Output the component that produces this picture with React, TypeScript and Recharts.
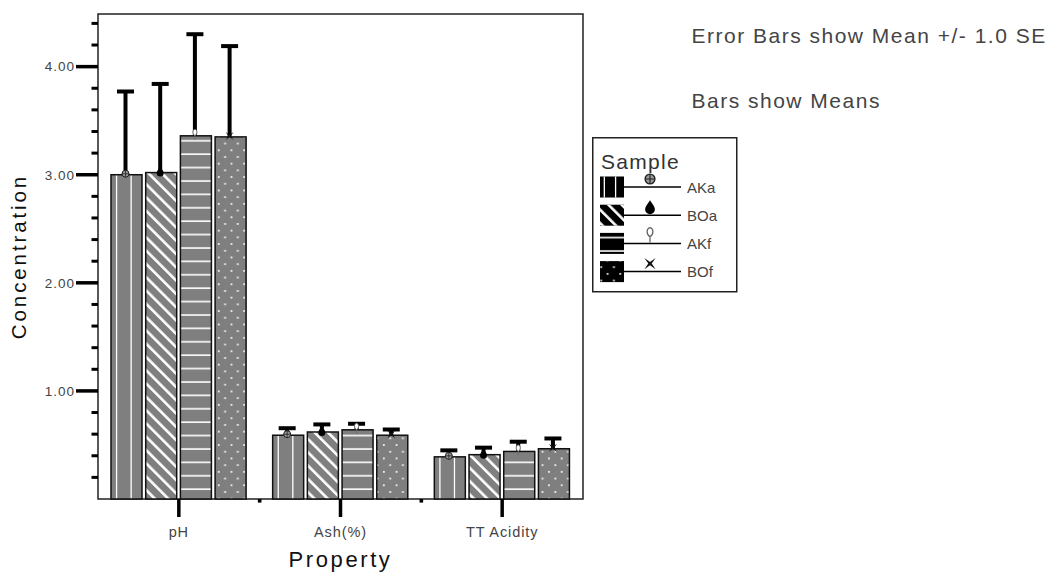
import React from "react";
import { BarChart, Bar, XAxis, YAxis, ReferenceArea, Legend } from "recharts";

// means and standard errors
const properties = ["pH", "Ash(%)", "TT Acidity"];
const sampleNames = ["AKa", "BOa", "AKf", "BOf"];
const akaMeans = [3.0, 0.59, 0.39];
const akaSE = [0.77, 0.065, 0.06];
const boaMeans = [3.02, 0.62, 0.41];
const boaSE = [0.82, 0.07, 0.065];
const akfMeans = [3.36, 0.64, 0.44];
const akfSE = [0.94, 0.056, 0.09];
const bofMeans = [3.35, 0.59, 0.465];
const bofSE = [0.84, 0.053, 0.095];

const yTicks = [0.2, 0.4, 0.6, 0.8, 1, 1.2, 1.4, 1.6, 1.8, 2, 2.2, 2.4, 2.6, 2.8, 3, 3.2, 3.4, 3.6, 3.8, 4, 4.2, 4.4];
const majorTicks = [1, 2, 3, 4];
const yMax = 4.487;

const data = properties.map((p, i) => ({
  property: p,
  AKa: akaMeans[i],
  AKa_se: akaSE[i],
  BOa: boaMeans[i],
  BOa_se: boaSE[i],
  AKf: akfMeans[i],
  AKf_se: akfSE[i],
  BOf: bofMeans[i],
  BOf_se: bofSE[i],
}));

const FONT = "'Liberation Sans', Arial, sans-serif";
const BAR_GREY = "#7f7f7f";

type Kind = "vert" | "diag" | "horiz" | "dots";
const fills: Record<string, Kind> = { AKa: "vert", BOa: "diag", AKf: "horiz", BOf: "dots" };

const PatternFill = ({ kind, x, y, w, h, base }: any) => (
  <g>
    <rect x={x} y={y} width={w} height={h} fill={base} />
    {kind === "vert" ? (
      <>
        <line x1={x + w * 0.18} x2={x + w * 0.18} y1={y} y2={y + h} stroke="#fff" strokeWidth={1.3} />
        <line x1={x + w * 0.65} x2={x + w * 0.65} y1={y} y2={y + h} stroke="#fff" strokeWidth={1.3} />
      </>
    ) : (
      <rect x={x} y={y} width={w} height={h} fill={`url(#pat-${kind})`} />
    )}
  </g>
);

const SampleSymbol = ({ name, cx, cy, s = 1 }: any) => {
  const t = `translate(${cx},${cy}) scale(${s})`;
  if (name === "AKa")
    return (
      <g transform={t}>
        <circle r={3.5} fill="#999" stroke="#222" strokeWidth={1} />
        <path d="M-3.5,0H3.5M0,-3.5V3.5" stroke="#222" strokeWidth={0.8} />
      </g>
    );
  if (name === "BOa")
    return (
      <g transform={t}>
        <path d="M0,-5 C1.5,-2.5 3.5,-0.5 3.5,1.5 A3.5,3.5 0 0 1 -3.5,1.5 C-3.5,-0.5 -1.5,-2.5 0,-5Z" fill="#000" />
      </g>
    );
  if (name === "AKf")
    return (
      <g transform={t}>
        <path d="M0,5 L0,1 C-3,-1 -2.5,-5 0,-5.5 C2.5,-5 3,-1 0,1" fill="#fff" stroke="#666" strokeWidth={0.9} />
      </g>
    );
  return (
    <g transform={t}>
      <path d="M-4,-4 L0,-1.2 L4,-4 L1.2,0 L4,4 L0,1.2 L-4,4 L-1.2,0Z" fill="#111" />
    </g>
  );
};

const makeShape = (name: string) => (props: any) => {
  const { x, y, width, height, payload } = props;
  const mean = payload[name];
  const se = payload[name + "_se"];
  const perUnit = mean ? height / mean : 0;
  const cx = x + width / 2 - 1;
  const errY = y - se * perUnit;
  return (
    <g>
      <PatternFill kind={fills[name]} x={x} y={y} w={width} h={height} base={BAR_GREY} />
      <rect x={x} y={y} width={width} height={height} fill="none" stroke="#111" strokeWidth={1.5} />
      <line x1={cx} x2={cx} y1={y} y2={errY} stroke="#000" strokeWidth={4} />
      <line x1={cx - 8.5} x2={cx + 8.5} y1={errY} y2={errY} stroke="#000" strokeWidth={4} />
      <SampleSymbol name={name} cx={cx} cy={y - 1} />
    </g>
  );
};

const XTick = (props: any) => {
  const { x, y, payload, index, width, visibleTicksCount } = props;
  const step = width && visibleTicksCount ? width / visibleTicksCount : 0;
  return (
    <g>
      <line x1={x} x2={x} y1={y} y2={y + 18} stroke="#000" strokeWidth={3.5} />
      {index > 0 && step > 0 && <rect x={x - step / 2 - 1.8} y={y} width={3.6} height={3.6} fill="#000" />}
      <text x={x} y={y + 38} textAnchor="middle" fontSize={14.5} letterSpacing={0.9} fill="#444" fontFamily={FONT}>
        {payload.value}
      </text>
    </g>
  );
};

const YTick = (props: any) => {
  const { x, y, payload } = props;
  const major = majorTicks.includes(payload.value);
  return (
    <g>
      <line x1={x - (major ? 22 : 6.5)} x2={x} y1={y} y2={y} stroke="#000" strokeWidth={major ? 3.5 : 3} />
      {major && (
        <text x={x - 23} y={y + 4.8} textAnchor="end" fontSize={13.5} letterSpacing={1} fill="#444" fontFamily={FONT}>
          {Number(payload.value).toFixed(2)}
        </text>
      )}
    </g>
  );
};

const YLabel = (props: any) => {
  const vb = props.viewBox || { x: 0, y: 14, width: 98, height: 485 };
  const cx = vb.x + 26;
  const cy = vb.y + vb.height / 2;
  return (
    <text x={cx} y={cy} transform={`rotate(-90 ${cx} ${cy})`} textAnchor="middle" fontSize={20.5} letterSpacing={2.9} fill="#111" fontFamily={FONT}>
      Concentration
    </text>
  );
};

const XLabel = (props: any) => {
  const vb = props.viewBox || { x: 98, y: 499, width: 485, height: 74 };
  return (
    <text x={vb.x + vb.width / 2} y={vb.y + 68} textAnchor="middle" fontSize={22} letterSpacing={2.6} fill="#111" fontFamily={FONT}>
      Property
    </text>
  );
};

const LegendBox = () => (
  <svg width={146} height={156} style={{ display: "block" }}>
    <rect x={0.75} y={0.75} width={144} height={154} fill="#fff" stroke="#222" strokeWidth={1.5} />
    <text x={9} y={32} fontSize={21} letterSpacing={1.3} fill="#333" fontFamily={FONT}>
      Sample
    </text>
    {sampleNames.map((n, i) => {
      const cy = 50 + i * 28.2;
      return (
        <g key={n}>
          <PatternFill kind={fills[n]} x={8} y={cy - 10.5} w={24} h={21} base="#000" />
          <line x1={32} x2={89} y1={cy} y2={cy} stroke="#000" strokeWidth={1.5} />
          <SampleSymbol name={n} cx={58} cy={cy - 8} s={1.4} />
          <text x={95} y={cy + 5.5} fontSize={15} fill="#444" fontFamily={FONT}>
            {n}
          </text>
        </g>
      );
    })}
  </svg>
);

export default function App() {
  return (
    <div style={{ position: "absolute", left: 0, top: 0, width: 1055, height: 573, background: "#fff", fontFamily: FONT }}>
      <svg width={0} height={0} style={{ position: "absolute" }}>
        <defs>
          <pattern id="pat-horiz" patternUnits="userSpaceOnUse" width={10} height={13.4}>
            <rect x={0} y={6} width={10} height={1.6} fill="#fff" />
          </pattern>
          <pattern id="pat-diag" patternUnits="userSpaceOnUse" width={9.4} height={9.4} patternTransform="rotate(-45)">
            <rect x={0} y={0} width={2.6} height={9.4} fill="#fff" />
          </pattern>
          <pattern id="pat-dots" patternUnits="userSpaceOnUse" width={12.7} height={13.4}>
            <rect x={2} y={2} width={1.7} height={1.7} fill="#fff" />
            <rect x={8.35} y={8.7} width={1.7} height={1.7} fill="#fff" />
          </pattern>
        </defs>
      </svg>
      <BarChart
        width={1055}
        height={573}
        data={data}
        margin={{ top: 14, right: 472, bottom: 0, left: 0 }}
        barSize={31}
        barGap={3.7}
      >
        <XAxis
          dataKey="property"
          height={74}
          axisLine={false}
          tickLine={false}
          tickSize={0}
          tickMargin={0}
          tick={<XTick />}
          interval={0}
          label={{ value: "Property", content: XLabel }}
        />
        <YAxis
          type="number"
          width={98}
          domain={[0, yMax]}
          ticks={yTicks}
          interval={0}
          axisLine={false}
          tickLine={false}
          tickSize={0}
          tickMargin={0}
          tick={<YTick />}
          label={{ value: "Concentration", content: YLabel }}
        />
        <ReferenceArea
          x1={properties[0]}
          x2={properties[properties.length - 1]}
          y1={0}
          y2={yMax}
          fill="none"
          fillOpacity={0}
          stroke="#222"
          strokeWidth={1.5}
          ifOverflow="visible"
        />
        <Legend
          layout="vertical"
          align="center"
          verticalAlign="middle"
          content={() => <LegendBox />}
          wrapperStyle={{ left: 592, top: 137, width: 146, height: 156 }}
        />
        {sampleNames.map((n) => (
          <Bar key={n} dataKey={n} name={n} fill={BAR_GREY} isAnimationActive={false} shape={makeShape(n)} />
        ))}
      </BarChart>
      <svg width={1055} height={573} style={{ position: "absolute", left: 0, top: 0, pointerEvents: "none" }}>
        <text x={691.5} y={43.3} fontSize={21} letterSpacing={1.5} fill="#444" fontFamily={FONT}>
          Error Bars show Mean +/- 1.0 SE
        </text>
        <text x={691.5} y={107.7} fontSize={21} letterSpacing={1.5} fill="#444" fontFamily={FONT}>
          Bars show Means
        </text>
      </svg>
    </div>
  );
}
